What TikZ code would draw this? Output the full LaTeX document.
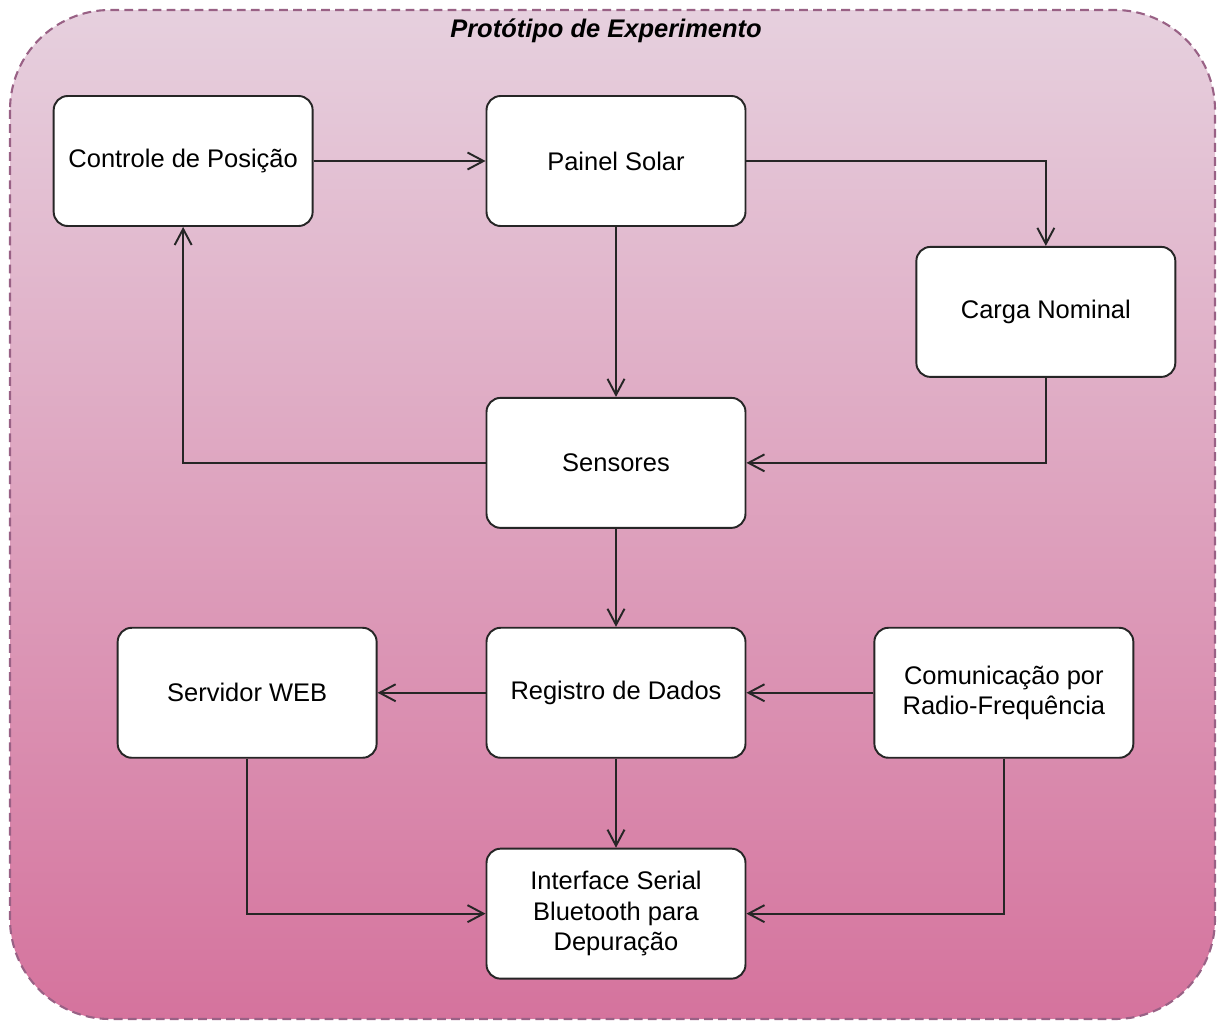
\documentclass[tikz,border=0pt]{standalone}
\usepackage{fontspec}
\setmainfont{Liberation Sans}
\usepackage{xcolor}
\definecolor{frameTop}{HTML}{E6D0DE}
\definecolor{frameBot}{HTML}{D5739D}
\definecolor{frameLine}{HTML}{996185}
\usetikzlibrary{arrows.meta,positioning}
\tikzset{
  block/.style={draw=black!85,line width=1.1pt,rounded corners=8pt,fill=white,%
    minimum width=5.18cm,minimum height=2.6cm,inner sep=2pt,align=center,%
    font=\fontsize{14.5}{17.4}\selectfont},
  flow/.style={-{Straight Barb[length=3.2mm,width=3.4mm,line width=1.1pt]},%
    line width=1.1pt,draw=black!85},
  frame/.style={draw=frameLine,line width=1.2pt,dash pattern=on 5pt off 3pt,%
    rounded corners=2cm,top color=frameTop,bottom color=frameBot},
}

\begin{document}
\begin{tikzpicture}[x=0.02cm,y=-0.02cm]
\useasboundingbox (0,0) rectangle (1217,1021);
\draw[frame] (10,10) rectangle (1215,1019);
\node[font=\fontsize{14.5}{17.4}\selectfont\bfseries\itshape] (title) at (606,31) {Protótipo de Experimento};
% blocks
\node[block] (painel) at (616,161) {Painel Solar};
\node[block,left=3.44cm of painel] (posicao) {Controle de Posição};
\node[block,below right=0.38cm and 3.38cm of painel] (carga) {Carga Nominal};
\node[block,below=3.40cm of painel] (sensores) {Sensores};
\node[block,below=1.96cm of sensores] (registro) {Registro de Dados};
\node[block,left=2.16cm of registro] (servidor) {Servidor WEB};
\node[block,right=2.54cm of registro] (radio) {Comunicação por\\Radio-Frequência};
\node[block,below=1.78cm of registro] (serial) {Interface Serial\\Bluetooth para\\Depuração};
% connectors
\draw[flow] (posicao) -- (painel);
\draw[flow] (painel) -| (carga);
\draw[flow] (painel) -- (sensores);
\draw[flow] (carga) |- (sensores);
\draw[flow] (sensores) -| (posicao);
\draw[flow] (sensores) -- (registro);
\draw[flow] (registro) -- (servidor);
\draw[flow] (radio) -- (registro);
\draw[flow] (registro) -- (serial);
\draw[flow] (servidor) |- (serial);
\draw[flow] (radio) |- (serial);
\end{tikzpicture}
\end{document}
